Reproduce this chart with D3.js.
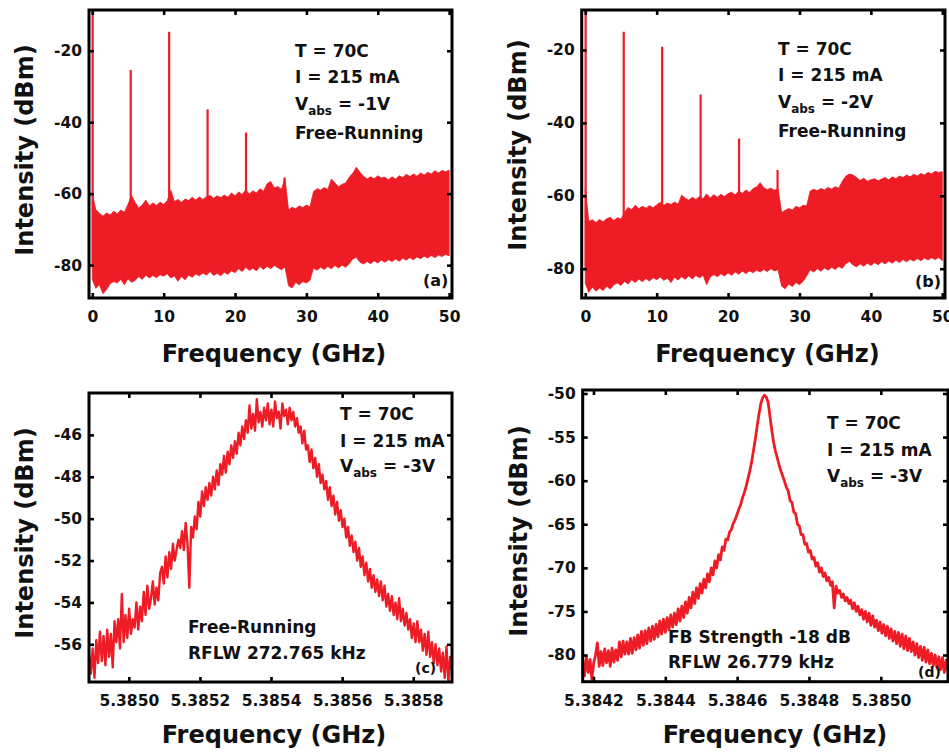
<!DOCTYPE html>
<html><head><meta charset="utf-8">
<script src="https://cdn.jsdelivr.net/npm/d3@7"></script>
<style>
body{margin:0;background:#fff}
text{font-family:"DejaVu Sans",sans-serif;font-weight:bold;fill:#111}
</style>
</head><body>
<svg id="chart" width="949" height="752"></svg>
<script>
// ---------------- DATA ----------------
// (a),(b): broadband RF spectra, noise floor band sampled every 0.5 GHz from 0 to 50 GHz
const bandStepGHz = 0.5;
const aUpper = [
 -60,-64.5,-65.5,-66.3,-65.4,-66.0,-64.9,-65.6,-64.6,-65.2,
 -63.0,-60.5,-62.5,-64.0,-63.2,-61.8,-63.4,-62.6,-63.3,-62.4,
 -63.0,-62.0,-59.0,-62.2,-61.6,-62.4,-61.5,-61.9,-61.0,-61.8,
 -60.9,-61.6,-60.8,-60.5,-61.3,-60.6,-61.1,-60.4,-61.0,-59.8,
 -60.6,-59.5,-60.2,-59.0,-60.1,-59.2,-59.8,-58.6,-59.3,-57.2,
 -56.6,-58.4,-58.0,-58.8,-55.8,-64.6,-63.8,-64.2,-63.4,-63.9,
 -63.2,-63.7,-59.4,-58.6,-59.0,-58.3,-58.8,-55.9,-57.0,-58.1,
 -57.4,-57.0,-55.4,-54.3,-52.6,-54.0,-55.1,-55.9,-55.3,-55.8,
 -55.0,-55.6,-55.4,-56.1,-55.3,-55.9,-55.0,-55.5,-54.6,-55.2,
 -54.5,-55.1,-54.2,-54.8,-54.0,-54.5,-53.6,-54.2,-53.5,-53.9,
 -53.4];
const aLower = [
 -84.0,-86.5,-85.5,-88.0,-86.8,-85.2,-84.6,-85.0,-84.0,-85.5,
 -83.8,-84.8,-84.3,-83.2,-84.0,-82.8,-83.6,-82.9,-83.5,-82.7,
 -83.1,-82.4,-83.6,-83.0,-84.5,-83.2,-84.1,-82.8,-83.4,-82.5,
 -83.0,-82.2,-82.8,-81.8,-82.9,-82.3,-83.0,-82.0,-82.6,-81.6,
 -82.1,-81.0,-81.8,-80.6,-81.5,-80.9,-81.6,-80.4,-81.2,-80.3,
 -81.0,-80.1,-80.7,-81.3,-80.5,-85.8,-86.4,-84.8,-85.5,-84.6,
 -85.0,-84.2,-80.8,-81.4,-80.6,-81.2,-80.4,-81.0,-80.1,-80.8,
 -80.0,-80.6,-79.6,-78.3,-77.8,-79.2,-79.7,-79.0,-79.6,-78.8,
 -79.4,-78.6,-79.2,-78.5,-79.0,-78.3,-78.9,-78.1,-78.6,-77.9,
 -78.5,-77.7,-78.2,-77.5,-78.0,-77.3,-77.9,-77.2,-77.6,-77.0,
 -77.4];
const aPeakFreq  = [0.05, 5.385, 10.77, 16.155, 21.54, 26.93];
const aPeakLevel = [-8.0, -25.4, -14.7, -36.4, -42.9, -55.5];

const bUpper = [
 -58.0,-67.0,-66.6,-67.3,-66.5,-67.1,-66.3,-65.9,-66.8,-66.0,
 -66.4,-64.5,-63.2,-63.8,-62.6,-63.5,-62.9,-63.4,-62.7,-63.3,
 -62.5,-61.8,-62.6,-62.0,-62.4,-61.7,-62.3,-59.8,-60.7,-61.2,
 -60.4,-61.0,-60.2,-60.8,-59.5,-60.6,-59.7,-60.4,-59.6,-60.2,
 -59.4,-59.0,-59.8,-58.7,-59.3,-58.4,-59.1,-58.0,-57.6,-56.4,
 -57.8,-58.3,-57.9,-58.5,-58.0,-64.6,-64.0,-63.5,-63.9,-62.9,
 -63.3,-62.6,-62.8,-58.7,-58.2,-58.6,-58.0,-58.4,-57.7,-58.2,
 -57.5,-57.9,-56.0,-54.6,-54.0,-54.3,-55.0,-55.8,-55.2,-56.0,
 -55.6,-55.3,-55.9,-55.4,-55.0,-55.6,-54.8,-55.3,-54.6,-55.0,
 -54.3,-54.8,-54.1,-54.6,-53.9,-54.3,-53.6,-54.0,-53.3,-53.6,
 -53.4];
const bLower = [
 -84.0,-86.5,-85.0,-86.2,-85.3,-86.0,-84.8,-85.6,-84.4,-83.9,
 -84.6,-83.5,-84.2,-83.0,-83.8,-82.8,-83.6,-82.7,-83.4,-82.5,
 -83.0,-82.3,-83.2,-82.6,-83.8,-82.4,-83.1,-82.2,-82.9,-82.0,
 -82.8,-81.9,-82.5,-81.8,-84.4,-82.3,-81.6,-82.2,-81.4,-82.0,
 -81.2,-81.8,-80.9,-81.5,-80.7,-81.3,-80.6,-81.1,-80.4,-80.9,
 -80.2,-80.8,-80.0,-80.6,-80.3,-84.8,-85.5,-84.2,-84.9,-83.8,
 -84.4,-83.5,-82.0,-80.3,-80.9,-80.0,-80.7,-79.8,-80.4,-79.6,
 -80.2,-79.4,-79.9,-78.6,-78.0,-79.0,-79.5,-78.7,-79.3,-78.5,
 -79.1,-78.3,-78.9,-78.1,-78.7,-77.9,-78.5,-77.7,-78.3,-77.5,
 -78.1,-77.4,-77.9,-77.2,-77.8,-77.1,-77.6,-77.0,-77.5,-76.9,
 -77.8];
const bPeakFreq  = [0.05, 5.385, 10.77, 16.155, 21.54, 26.93];
const bPeakLevel = [-8.0, -15.0, -19.1, -32.2, -44.3, -52.9];

// (c): free-running fundamental line, 200 evenly spaced samples
const cStartGHz = 5.384888, cEndGHz = 5.385909;
const cLevel = [
 -56.5,-57.4,-56.2,-57.6,-55.8,-56.9,-55.4,-56.8,-55.6,-57.0,
 -55.3,-56.6,-55.5,-57.1,-54.9,-55.9,-54.8,-56.2,-53.6,-55.9,
 -54.6,-55.7,-54.3,-55.5,-54.8,-55.2,-54.0,-55.3,-54.2,-54.9,
 -53.5,-54.6,-53.2,-54.3,-53.8,-53.0,-54.1,-53.3,-53.9,-52.6,
 -52.3,-53.1,-51.8,-52.8,-51.6,-52.4,-51.2,-52.0,-51.5,-51.0,
 -51.4,-50.6,-51.5,-50.2,-51.2,-53.3,-50.4,-50.9,-49.9,-50.5,
 -49.2,-49.9,-48.7,-49.4,-48.5,-49.1,-48.3,-48.9,-48.0,-48.6,
 -47.7,-48.4,-47.4,-47.9,-47.0,-47.8,-46.8,-47.4,-46.5,-47.1,
 -46.3,-46.9,-45.9,-46.5,-45.6,-46.2,-45.3,-45.9,-44.6,-45.7,
 -45.0,-45.8,-44.3,-45.4,-44.9,-45.6,-44.7,-45.3,-44.5,-45.5,
 -44.8,-45.6,-44.4,-45.2,-44.9,-45.7,-44.5,-45.1,-44.8,-45.5,
 -44.7,-45.3,-44.9,-45.6,-45.2,-45.9,-45.6,-46.4,-45.8,-46.7,
 -46.5,-47.3,-46.7,-47.6,-47.1,-48.0,-47.4,-48.3,-47.9,-48.6,
 -48.2,-49.1,-48.5,-49.4,-48.9,-49.8,-49.2,-50.1,-49.6,-50.4,
 -50.0,-50.9,-50.4,-51.3,-50.8,-51.6,-51.1,-52.0,-51.4,-52.3,
 -51.8,-52.7,-52.1,-53.0,-52.4,-53.3,-52.7,-53.5,-52.9,-53.7,
 -53.0,-53.9,-53.2,-54.2,-53.6,-54.4,-53.7,-54.6,-54.0,-54.8,
 -53.8,-54.9,-54.3,-55.1,-54.5,-55.3,-54.8,-55.7,-55.0,-55.9,
 -54.9,-55.9,-55.3,-56.3,-55.5,-56.5,-55.4,-56.6,-55.9,-56.9,
 -56.0,-57.0,-56.2,-57.3,-56.4,-57.6,-56.1,-57.8,-56.6,-57.2];

// (d): with feedback (-18 dB), 200 evenly spaced samples
const dStartGHz = 5.38417, dEndGHz = 5.385187;
const dLevel = [
 -80.6,-82.4,-80.2,-82.0,-80.5,-82.8,-80.9,-80.0,-78.6,-81.3,
 -79.6,-81.2,-79.3,-80.9,-79.5,-81.3,-79.2,-80.8,-79.4,-80.6,
 -78.5,-80.2,-78.4,-79.9,-78.5,-79.9,-78.1,-79.8,-78.0,-79.4,
 -77.7,-79.2,-77.3,-78.9,-77.2,-78.7,-76.9,-78.4,-76.7,-78.2,
 -76.5,-77.9,-76.1,-77.6,-75.9,-77.4,-75.7,-77.1,-75.4,-76.8,
 -75.2,-76.5,-74.7,-76.1,-74.4,-75.7,-73.9,-75.2,-73.4,-74.6,
 -72.8,-74.1,-72.3,-73.5,-71.8,-72.9,-71.3,-72.3,-70.7,-71.6,
 -70.0,-70.8,-69.2,-70.0,-68.5,-69.1,-67.6,-68.0,-66.7,-66.8,
 -65.9,-65.6,-64.9,-64.5,-63.9,-63.3,-62.8,-62.0,-61.4,-60.7,
 -59.8,-58.9,-57.9,-56.6,-55.3,-53.8,-52.4,-51.2,-50.5,-50.2,
 -50.4,-51.0,-52.6,-54.2,-55.6,-56.6,-57.4,-58.2,-58.9,-59.5,
 -60.1,-60.8,-61.2,-62.3,-62.5,-63.6,-63.8,-65.0,-65.2,-66.2,
 -66.2,-67.3,-67.2,-68.2,-68.0,-69.0,-68.8,-69.8,-69.4,-70.5,
 -70.0,-71.0,-70.6,-71.5,-71.1,-72.0,-71.6,-74.6,-72.1,-72.9,
 -72.6,-73.4,-73.0,-73.8,-73.4,-74.1,-73.7,-74.7,-74.0,-75.0,
 -74.4,-75.4,-74.8,-75.9,-75.0,-76.2,-75.2,-76.6,-75.5,-76.8,
 -76.0,-77.2,-76.2,-77.5,-76.5,-77.8,-76.7,-78.1,-77.0,-78.4,
 -77.3,-78.7,-77.4,-79.0,-77.6,-79.3,-77.8,-79.5,-78.1,-79.6,
 -78.5,-80.0,-78.7,-80.3,-79.0,-80.6,-79.1,-80.8,-79.4,-81.0,
 -79.8,-81.2,-80.0,-81.5,-80.2,-81.7,-80.3,-82.0,-80.6,-81.8];

// tick values
const abXTicks = [0, 10, 20, 30, 40, 50];
const abYTicks = [-80, -60, -40, -20];
const cXTicks = [5.3850, 5.3852, 5.3854, 5.3856, 5.3858];
const cYTicks = [-56, -54, -52, -50, -48, -46];
const dXTicks = [5.3842, 5.3844, 5.3846, 5.3848, 5.3850];
const dYTicks = [-80, -75, -70, -65, -60, -55, -50];

// ---------------- DRAW ----------------
const RED = "#ee1c25";
const svg = d3.select("#chart");
svg.append("rect").attr("width", 949).attr("height", 752).attr("fill", "#fff");

function bandDraw(upper, lower, pf, pl) {
  return (g, x, y) => {
    const area = d3.area()
      .x((d, i) => x(i * bandStepGHz))
      .y0((d, i) => y(lower[i]))
      .y1((d, i) => y(upper[i]));
    g.append("path").datum(upper).attr("d", area).attr("fill", RED)
      .attr("stroke", RED).attr("stroke-width", 0.8);
    g.selectAll("line.pk").data(pf).join("line").attr("class", "pk")
      .attr("x1", d => x(d)).attr("x2", d => x(d))
      .attr("y1", y(-80)).attr("y2", (d, i) => y(pl[i]))
      .attr("stroke", RED).attr("stroke-width", 2.2);
  };
}
function traceDraw(levels, f0, f1, width) {
  return (g, x, y) => {
    const n = levels.length;
    const line = d3.line()
      .x((d, i) => x(f0 + (f1 - f0) * i / (n - 1)))
      .y(d => y(d));
    g.append("path").datum(levels).attr("d", line).attr("fill", "none")
      .attr("stroke", RED).attr("stroke-width", width).attr("stroke-linejoin", "round");
  };
}

function panel(p) {
  const x = d3.scaleLinear().domain(p.xDomain).range([p.left, p.right]);
  const y = d3.scaleLinear().domain(p.yDomain).range([p.bottom, p.top]);
  const id = "clip-" + p.name;
  svg.append("clipPath").attr("id", id).append("rect")
    .attr("x", p.left).attr("y", p.top)
    .attr("width", p.right - p.left).attr("height", p.bottom - p.top);
  const g = svg.append("g");
  p.draw(g.append("g").attr("clip-path", `url(#${id})`), x, y);

  const style = sel => {
    sel.select(".domain").remove();
    sel.selectAll("line").attr("stroke", "#000").attr("stroke-width", 2.6);
    sel.selectAll("text").attr("font-size", 15.5).attr("fill", "#111")
      .attr("font-family", "DejaVu Sans").attr("font-weight", "bold");
  };
  g.append("g").attr("transform", `translate(0,${p.bottom})`)
    .call(d3.axisBottom(x).tickValues(p.xTicks).tickFormat(p.xFmt)
      .tickSizeInner(-5).tickSizeOuter(0).tickPadding(13)).call(style);
  g.append("g").attr("transform", `translate(0,${p.top})`)
    .call(d3.axisTop(x).tickValues(p.xTicks).tickFormat("")
      .tickSizeInner(-5).tickSizeOuter(0)).call(style);
  g.append("g").attr("transform", `translate(${p.left},0)`)
    .call(d3.axisLeft(y).tickValues(p.yTicks).tickFormat(d3.format("d"))
      .tickSizeInner(-5).tickSizeOuter(0).tickPadding(7)).call(style);
  g.append("g").attr("transform", `translate(${p.right},0)`)
    .call(d3.axisRight(y).tickValues(p.yTicks).tickFormat("")
      .tickSizeInner(-5).tickSizeOuter(0)).call(style);
  g.selectAll(".tick text").text(function () { return this.textContent.replace("\u2212", "-"); });

  g.append("rect").attr("x", p.left).attr("y", p.top)
    .attr("width", p.right - p.left).attr("height", p.bottom - p.top)
    .attr("fill", "none").attr("stroke", "#000").attr("stroke-width", 3);

  g.append("text").attr("x", p.xLabel[0]).attr("y", p.xLabel[1])
    .attr("text-anchor", "middle").attr("font-size", 24).text("Frequency (GHz)");
  g.append("text").attr("transform", `translate(${p.yLabel[0]},${p.yLabel[1]}) rotate(-90)`)
    .attr("text-anchor", "middle").attr("font-size", 24).text("Intensity (dBm)");

  p.notes.forEach(n => {
    const t = g.append("text").attr("x", n.x).attr("y", n.y).attr("font-size", n.size || 17);
    if (n.sub) {
      t.append("tspan").text(n.pre);
      t.append("tspan").attr("dy", 5).attr("font-size", 12).text(n.sub);
      t.append("tspan").attr("dy", -5).text(n.post);
    } else t.text(n.text);
  });
}

panel({
  name: "a", left: 89, right: 452, top: 10, bottom: 298,
  xDomain: [-0.46, 50.4], yDomain: [-89.2, -8.6],
  xTicks: abXTicks, yTicks: abYTicks, xFmt: d3.format("d"),
  draw: bandDraw(aUpper, aLower, aPeakFreq, aPeakLevel),
  xLabel: [274, 362], yLabel: [33, 150],
  notes: [
    {x: 295, y: 57, text: "T = 70C"},
    {x: 295, y: 83, text: "I = 215 mA"},
    {x: 295, y: 110, pre: "V", sub: "abs", post: " = -1V"},
    {x: 295, y: 139, text: "Free-Running"},
    {x: 423, y: 286, text: "(a)", size: 16}
  ]
});
panel({
  name: "b", left: 581.7, right: 945, top: 10, bottom: 298,
  xDomain: [-0.5, 50.38], yDomain: [-88.04, -9.03],
  xTicks: abXTicks, yTicks: abYTicks, xFmt: d3.format("d"),
  draw: bandDraw(bUpper, bLower, bPeakFreq, bPeakLevel),
  xLabel: [767.5, 362], yLabel: [526, 145],
  notes: [
    {x: 778, y: 55, text: "T = 70C"},
    {x: 778, y: 81, text: "I = 215 mA"},
    {x: 778, y: 108, pre: "V", sub: "abs", post: " = -2V"},
    {x: 778, y: 137, text: "Free-Running"},
    {x: 915, y: 287, text: "(b)", size: 16}
  ]
});
panel({
  name: "c", left: 89, right: 452, top: 393, bottom: 682,
  xDomain: [5.384888, 5.385909], yDomain: [-57.8, -44.0],
  xTicks: cXTicks, yTicks: cYTicks, xFmt: d3.format(".4f"),
  draw: traceDraw(cLevel, cStartGHz, cEndGHz, 2.4),
  xLabel: [274, 743], yLabel: [33, 533],
  notes: [
    {x: 340, y: 420, text: "T = 70C"},
    {x: 340, y: 447, text: "I = 215 mA"},
    {x: 340, y: 472, pre: "V", sub: "abs", post: " = -3V"},
    {x: 188, y: 633, text: "Free-Running"},
    {x: 188, y: 659, text: "RFLW 272.765 kHz"},
    {x: 415, y: 673, text: "(c)", size: 14}
  ]
});
panel({
  name: "d", left: 582.7, right: 948, top: 390, bottom: 681.7,
  xDomain: [5.38417, 5.385187], yDomain: [-83.06, -49.6],
  xTicks: dXTicks, yTicks: dYTicks, xFmt: d3.format(".4f"),
  draw: traceDraw(dLevel, dStartGHz, dEndGHz, 2.8),
  xLabel: [775, 743], yLabel: [527, 531],
  notes: [
    {x: 827, y: 429, text: "T = 70C"},
    {x: 827, y: 456, text: "I = 215 mA"},
    {x: 827, y: 482, pre: "V", sub: "abs", post: " = -3V"},
    {x: 668, y: 643, text: "FB Strength -18 dB"},
    {x: 668, y: 668, text: "RFLW 26.779 kHz"},
    {x: 918, y: 677, text: "(d)", size: 14}
  ]
});
</script>
</body></html>
